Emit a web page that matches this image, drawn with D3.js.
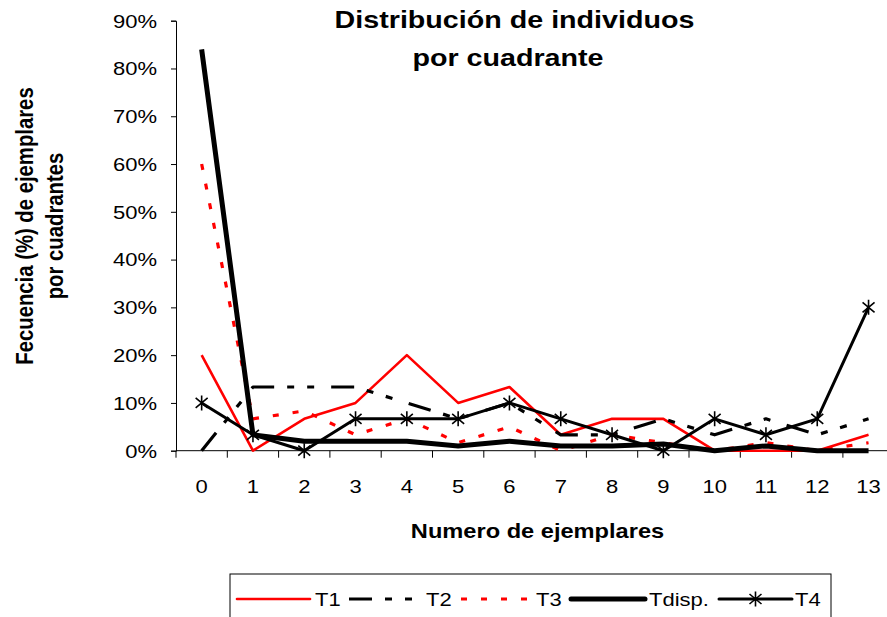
<!DOCTYPE html>
<html><head><meta charset="utf-8">
<script src="https://cdn.jsdelivr.net/npm/d3@7"></script>
<style>body{margin:0;background:#fff;overflow:hidden} text{font-family:"Liberation Sans",Arial,sans-serif;fill:#000}</style>
</head><body><svg id="c" width="887" height="617"></svg>
<script>
const categories = [0,1,2,3,4,5,6,7,8,9,10,11,12,13];
const T1    = [20, 0, 6.67, 10, 20, 10, 13.33, 3.33, 6.67, 6.67, 0, 0, 0, 3.33];
const T2    = [0, 13.33, 13.33, 13.33, 10, 6.67, 10, 3.33, 3.33, 6.67, 3.33, 6.67, 3.33, 6.67];
const T3    = [60, 6.67, 8.33, 3.33, 6.67, 1.67, 5, 0, 3.33, 1.67, 0, 1.67, 0, 1.67];
const Tdisp = [84, 3.33, 2, 2, 2, 1, 2, 1, 1, 1.4, 0, 1, 0, 0];
const T4    = [10, 3.33, 0, 6.67, 6.67, 6.67, 10, 6.67, 3.33, 0, 6.67, 3.33, 6.67, 30];
const yTicks = [0,10,20,30,40,50,60,70,80,90];
const seriesNames = ["T1","T2","T3","Tdisp.","T4"];
const titleLines = ["Distribución de individuos","por cuadrante"];
const yTitleLines = ["Fecuencia (%) de ejemplares","por cuadrantes"];
const xTitle = "Numero de ejemplares";

const series = [
  {name:seriesNames[0], values:T1, color:"#ff0000", width:2.6, dash:null, marker:false},
  {name:seriesNames[1], values:T2, color:"#000", width:3.2, dash:"23,13,7,13,7,17", marker:false},
  {name:seriesNames[2], values:T3, color:"#ff0000", width:3.2, dash:"6,14", marker:false},
  {name:seriesNames[3], values:Tdisp, color:"#000", width:5, dash:null, marker:false},
  {name:seriesNames[4], values:T4, color:"#000", width:3, dash:null, marker:true}
];

const svg = d3.select("#c");
const pLeft = 176, pRight = 894.2, pTop = 20.7, pBottom = 450.7;
const x = d3.scaleBand().domain(categories).range([pLeft,pRight]).padding(0);
const y = d3.scaleLinear().domain([0,90]).range([pBottom,pTop]);
const SX = 1.17;

function stext(g, x0, y0, txt, opts){
  return g.append("text").attr("transform",`translate(${x0},${y0}) scale(${opts.sx||1},1)`)
    .attr("text-anchor",opts.anchor||"middle").attr("dominant-baseline","central")
    .style("font-size",opts.size+"px").style("font-weight",opts.bold?"bold":"normal").text(txt);
}

// y axis
const ya = svg.append("g").attr("transform",`translate(${pLeft},0)`)
  .call(d3.axisLeft(y).tickValues(yTicks).tickSize(5).tickFormat(()=>"" ));
ya.select(".domain").attr("stroke","#000").attr("stroke-width",1);
ya.selectAll("line").attr("stroke","#000");
yTicks.forEach(v=>stext(svg, 157, y(v), v+"%", {size:18.8, anchor:"end", sx:SX}));

// x axis
const xa = svg.append("g").attr("transform",`translate(0,${pBottom})`)
  .call(d3.axisBottom(x).tickSize(0).tickFormat(()=>""));
xa.select(".domain").attr("stroke","#000").attr("stroke-width",1).attr("d",`M${pLeft},0H${pRight}`);
xa.selectAll(".tick line").remove();
const bounds = categories.map(c=>x(c)).concat([pRight]);
svg.append("g").selectAll("line").data(bounds).join("line")
  .attr("x1",d=>d).attr("x2",d=>d).attr("y1",pBottom).attr("y2",pBottom+7).attr("stroke","#000");
categories.forEach(c=>stext(svg, x(c)+x.bandwidth()/2, 486, String(c), {size:18.8, sx:SX}));

// titles
stext(svg, 514.5, 20, titleLines[0], {size:24.5, bold:true, sx:SX});
stext(svg, 508, 58, titleLines[1], {size:24.5, bold:true, sx:SX});
stext(svg, 537.5, 531, xTitle, {size:20.2, bold:true, sx:SX});
yTitleLines.forEach((l,i)=>{
  svg.append("text").attr("transform",`translate(${25+i*30},${226}) rotate(-90) scale(1,${SX})`)
    .attr("text-anchor","middle").attr("dominant-baseline","central")
    .style("font-size","20.3px").style("font-weight","bold").text(l);
});

// lines
const cx = c=>x(c)+x.bandwidth()/2;
const lineGen = vals => d3.line().x((d,i)=>cx(categories[i])).y(d=>y(d))(vals);
const star = "M0,-7.5V7.5M-6,-5L6,5M-6,5L6,-5";
series.forEach(s=>{
  svg.append("path").attr("d",lineGen(s.values)).attr("fill","none")
    .attr("stroke",s.color).attr("stroke-width",s.width)
    .attr("stroke-dasharray",s.dash).attr("stroke-linejoin","round");
  if(s.marker){
    svg.append("g").selectAll("path").data(s.values).join("path")
      .attr("d",star).attr("transform",(d,i)=>`translate(${cx(categories[i])},${y(d)})`)
      .attr("stroke","#000").attr("stroke-width",1.6).attr("fill","none");
  }
});

// legend
const lg = svg.append("g");
lg.append("rect").attr("x",230).attr("y",574).attr("width",601).attr("height",80)
  .attr("fill","#fff").attr("stroke","#000").attr("stroke-width",1);
const ly = 599;
const items = [
  {x1:237,x2:310,tx:315},
  {x1:349,x2:416,tx:426},
  {x1:461,x2:531,tx:536},
  {x1:571,x2:645,tx:649},
  {x1:719,x2:792,tx:795}
];
series.forEach((s,i)=>{
  const it = items[i];
  lg.append("line").attr("x1",it.x1).attr("x2",it.x2).attr("y1",ly).attr("y2",ly)
    .attr("stroke",s.color).attr("stroke-width",s.width).attr("stroke-dasharray",s.dash)
    .attr("stroke-linecap", s.dash? "butt":"round");
  if(s.marker) lg.append("path").attr("d",star).attr("transform",`translate(${(it.x1+it.x2)/2},${ly})`)
    .attr("stroke","#000").attr("stroke-width",1.6).attr("fill","none");
  stext(lg, it.tx, ly, s.name, {size:18.8, anchor:"start", sx:SX});
});
</script></body></html>
